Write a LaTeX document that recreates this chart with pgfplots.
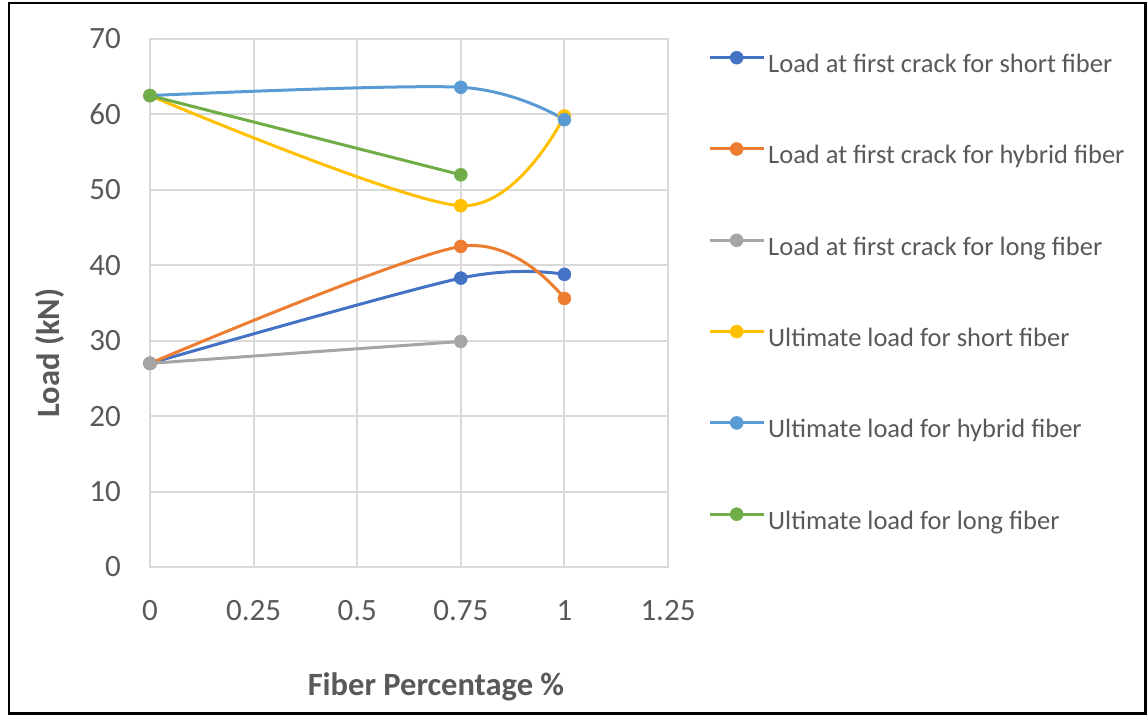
\documentclass[border=0pt]{standalone}
\usepackage{pgfplots}
\pgfplotsset{compat=1.18}
\usepackage{fontspec}
\setmainfont{Carlito}

\definecolor{cBlue}{HTML}{4472C4}
\definecolor{cOrange}{HTML}{ED7D31}
\definecolor{cGray}{HTML}{A5A5A5}
\definecolor{cYellow}{HTML}{FFC000}
\definecolor{cLightBlue}{HTML}{5B9BD5}
\definecolor{cGreen}{HTML}{70AD47}
\definecolor{gridc}{HTML}{D9D9D9}
\definecolor{textc}{HTML}{595959}

\begin{document}
\begin{tikzpicture}[x=1pt,y=1pt]
\path[use as bounding box] (0,0) rectangle (1148,716);
\begin{axis}[
  at={(150pt,149pt)}, anchor=south west,
  scale only axis, width=518pt, height=528pt,
  xmin=0, xmax=1.25, ymin=0, ymax=70,
  xtick={0,0.25,0.5,0.75,1,1.25},
  xticklabels={0,0.25,0.5,0.75,1,1.25},
  ytick={0,10,20,30,40,50,60,70},
  grid=major,
  major grid style={draw=gridc, line width=2pt},
  axis line style={draw=gridc, line width=2pt},
  major tick length=0pt, tick style={draw=none},
  /pgf/number format/assume math mode=true,
  ticklabel style={font=\fontsize{31}{36}\selectfont, text=textc, inner sep=0pt},
  xticklabel style={anchor=center, yshift=-44pt},
  yticklabel style={anchor=east, xshift=-29pt},
  clip=false,
  every axis plot/.append style={line width=3pt, smooth, mark=*, mark size=6.5pt,
    mark options={solid, line width=0.5pt}},
  legend image code/.code={\draw[#1, mark repeat=2, mark phase=2]
    plot coordinates {(0pt,9pt) (27pt,9pt) (54pt,9pt)};},
  legend cell align=left,
  legend style={at={(axis description cs:1.0772,0.9773)}, anchor=north west,
    draw=none, fill=none, inner sep=0pt, row sep=63.8pt, column sep=3pt,
    font=\fontsize{26.5}{30}\selectfont, text=textc,
    nodes={inner sep=0pt, text height=18pt, text depth=6pt}},
]
% load at first crack
\addplot[color=cBlue] coordinates {(0,27) (0.75,38.3) (1,38.8)};
\addlegendentry{Load at first crack for short fiber}
\addplot[color=cOrange] coordinates {(0,27) (0.75,42.5) (1,35.6)};
\addlegendentry{Load at first crack for hybrid fiber}
\addplot[color=cGray] coordinates {(0,27) (0.75,29.9)};
\addlegendentry{Load at first crack for long fiber}
% ultimate load
\addplot[color=cYellow] coordinates {(0,62.5) (0.75,47.9) (1,59.8)};
\addlegendentry{Ultimate load for short fiber}
\addplot[color=cLightBlue] coordinates {(0,62.5) (0.75,63.6) (1,59.3)};
\addlegendentry{Ultimate load for hybrid fiber}
\addplot[color=cGreen] coordinates {(0,62.5) (0.75,52)};
\addlegendentry{Ultimate load for long fiber}
\end{axis}
\node[rotate=90, font=\bfseries\fontsize{32.5}{38}\selectfont, text=textc] at (50,363) {Load (kN)};
\node[font=\bfseries\fontsize{32.5}{38}\selectfont, text=textc] at (436,29) {Fiber Percentage \%};
\draw[line width=2.5pt, black] (9,2.5) rectangle (1145.5,713);
\end{tikzpicture}
\end{document}
